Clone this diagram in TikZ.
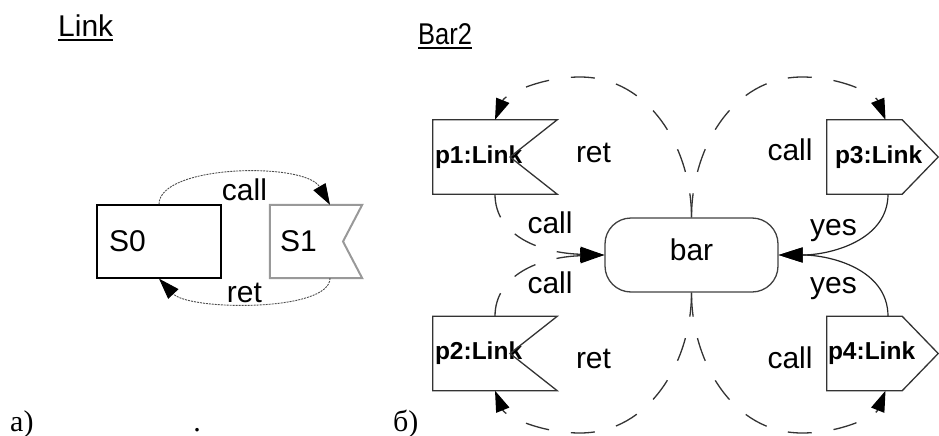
\documentclass[tikz,border=0pt]{standalone}
\usepackage{graphicx}
\usepackage{fontspec}
\setmainfont{Liberation Serif}
\setsansfont{Liberation Sans}
\usetikzlibrary{arrows.meta,calc}

\begin{document}
\begin{tikzpicture}[x=1pt,y=-1pt,
  every node/.style={inner sep=0pt},
  sfont/.style={font=\sffamily\fontsize{30}{36}\selectfont},
  bfont/.style={font=\sffamily\bfseries\fontsize{24.5}{29}\selectfont},
  lbl/.style={sfont, anchor=base},
  capt/.style={font=\rmfamily\fontsize{30}{36}\selectfont, anchor=base west},
  uline/.style={draw=black, line width=1.8pt},
  flagline/.style={draw=black!80, line width=1.3pt, line join=miter},
  fine/.style={draw=black!70, line width=0.9pt, dash pattern=on 2pt off 1pt},
  bigdash/.style={draw=black!80, line width=1.3pt, dash pattern=on 24pt off 22pt},
  yesline/.style={draw=black!85, line width=1.2pt},
  tipS/.style={-{Triangle[length=21pt,width=14pt,color=black]}},
  tipB/.style={-{Triangle[length=24pt,width=15pt,color=black]}}
]
\useasboundingbox (0,0) rectangle (939,436);

% headings
\node[sfont, anchor=base west] (hLink) at (58,37) {Link};
\draw[uline] ($(hLink.base west)+(0,3)$) -- ($(hLink.base east)+(0,3)$);
\node[sfont, anchor=base west] (hBar) at (418,45) {\scalebox{0.85}[1]{Bar2}};
\draw[uline] ($(hBar.base west)+(0,3)$) -- ($(hBar.base east)+(0,3)$);

% captions
\node[capt] (capA) at (10,431) {a)};
\node[capt] (capB) at (393,431) {б)};
\node[capt, anchor=base] (capDot) at (197,431) {.};

% ---- Link: two states ----
\node[sfont, draw=black, line width=1.3pt, minimum width=124pt, minimum height=73pt,
      text width=100pt, inner xsep=12pt, align=left] (S0) at (159,241.5) {S0};
\node[sfont, minimum width=92pt, minimum height=73pt,
      text width=72pt, inner xsep=10pt, align=left] (S1) at (316,241.5) {S1};
\draw[draw=black!40, line width=2pt, line join=miter]
  (S1.north west) -- (S1.north east) -- ($(S1.center)+(27,0)$)
  -- (S1.south east) -- (S1.south west) -- cycle;

\draw[fine, tipS] (S0.north) .. controls +(0,-40) and +(-25,-43) .. ($(S1.north)+(14,0)$);
\draw[fine, tipS] ($(S1.south)+(14,0)$) .. controls +(0,34) and +(30,32) .. (S0.south);
\node[lbl] (lCall) at (244.5,200) {call};
\node[lbl] (lRet) at (244.5,302) {ret};

% ---- Bar2: composite ----
\node[sfont, draw=black!75, line width=1.3pt, rounded corners=26pt,
      minimum width=173pt, minimum height=74pt, text depth=11pt] (bar) at (691.5,255) {bar};

\node[bfont, minimum width=124pt, minimum height=74pt, text width=120pt,
      inner xsep=2pt, align=left] (p1) at (495,157) {p1:Link};
\node[bfont, minimum width=124pt, minimum height=74pt, text width=120pt,
      inner xsep=2pt, align=left] (p2) at (495,353.5) {p2:Link};
\node[bfont, minimum width=111pt, minimum height=74pt, text width=95pt,
      inner xsep=8pt, align=left] (p3) at (882.5,157) {p3:Link};
\node[bfont, minimum width=111pt, minimum height=74pt, text width=109pt,
      inner xsep=1pt, align=left] (p4) at (882.5,353.5) {p4:Link};

% port outlines: notched flags on the left, pointed tags on the right
\draw[flagline] (p1.north west) -- (p1.north east) -- ($(p1.center)+(15,0)$)
  -- (p1.south east) -- (p1.south west) -- cycle;
\draw[flagline] (p2.north west) -- (p2.north east) -- ($(p2.center)+(15,0)$)
  -- (p2.south east) -- (p2.south west) -- cycle;
\draw[flagline] (p3.north west) -- ($(p3.north east)+(-36,0)$) -- (p3.east)
  -- ($(p3.south east)+(-36,0)$) -- (p3.south west) -- cycle;
\draw[flagline] (p4.north west) -- ($(p4.north east)+(-36,0)$) -- (p4.east)
  -- ($(p4.south east)+(-36,0)$) -- (p4.south west) -- cycle;

% turning points of the large arcs
\coordinate (tl) at (580,77);
\coordinate (tr) at (802,77);
\coordinate (bl) at (580,433);
\coordinate (br) at (802,433);

% ret / call from bar to the ports
\draw[bigdash, tipS] (bar.north) .. controls +(0,-68) and +(70,0) .. (tl)
  .. controls +(-40,0) and +(10,-25) .. (p1.north);
\draw[bigdash, tipS] (bar.north) .. controls +(0,-68) and +(-70,0) .. (tr)
  .. controls +(40,0) and +(-10,-25) .. ($(p3.north)+(3,0)$);
\draw[bigdash, tipS] (bar.south) .. controls +(0,68) and +(70,0) .. (bl)
  .. controls +(-40,0) and +(10,25) .. (p2.south);
\draw[bigdash, tipS] (bar.south) .. controls +(0,68) and +(-70,0) .. (br)
  .. controls +(40,0) and +(-10,25) .. ($(p4.south)+(3,0)$);

% call from the left ports into bar
\draw[bigdash, tipB] (p1.south) .. controls +(0,41) and +(-65,-2) .. (bar.west);
\draw[bigdash, tipB] (p2.north) .. controls +(0,-41) and +(-65,2) .. (bar.west);

% yes from the right ports into bar
\draw[yesline, tipB] ($(p3.south)+(5.5,0)$) .. controls +(0,46) and +(52,0) .. (bar.east);
\draw[yesline, tipB] ($(p4.north)+(5.5,0)$) .. controls +(0,-47) and +(52,0) .. (bar.east);

% labels
\node[lbl] (r1) at (593.5,162) {ret};
\node[lbl] (r2) at (593.5,368) {ret};
\node[lbl] (c1) at (550,233) {call};
\node[lbl] (c2) at (550,293) {call};
\node[lbl] (c3) at (790,160) {call};
\node[lbl] (c4) at (790,368) {call};
\node[lbl] (y1) at (833.5,235) {yes};
\node[lbl] (y2) at (833.5,293) {yes};
\end{tikzpicture}
\end{document}
